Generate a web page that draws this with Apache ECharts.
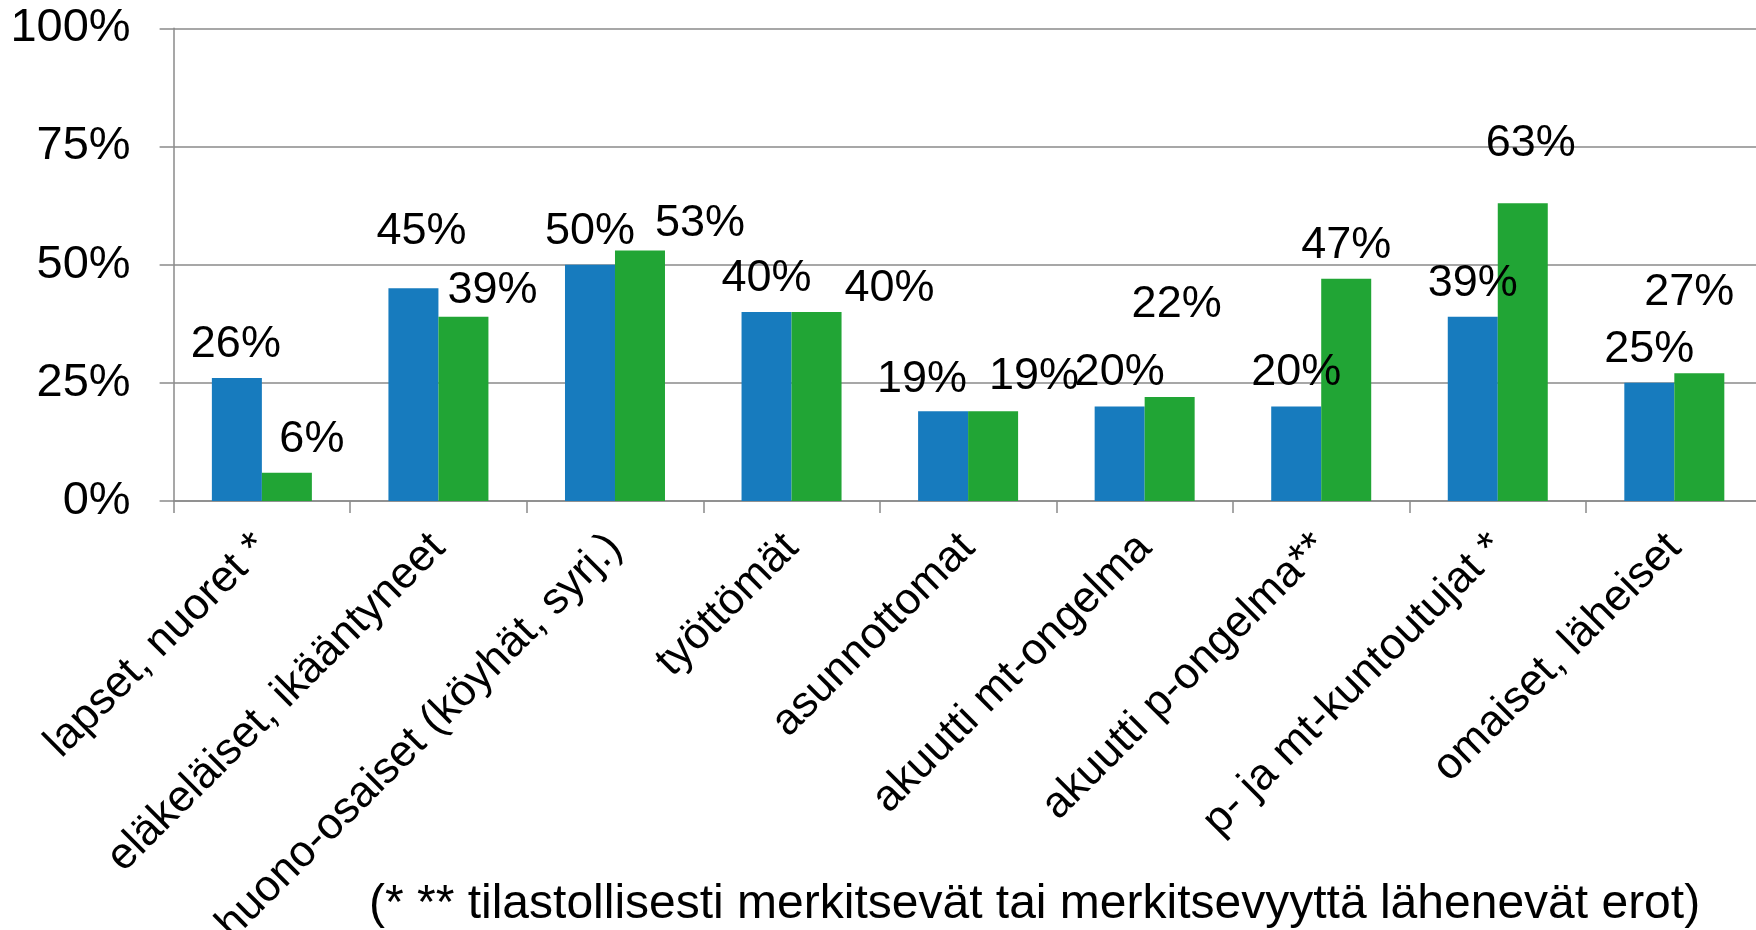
<!DOCTYPE html>
<html>
<head>
<meta charset="utf-8">
<script src="https://cdn.jsdelivr.net/npm/echarts@6/dist/echarts.min.js"></script>
<style>
  html, body { margin: 0; padding: 0; background: #fff; }
  #main { width: 1756px; height: 930px; }
</style>
</head>
<body>
<div id="main"></div>
<script>
var categories = [
    'lapset, nuoret *',
    'eläkeläiset, ikääntyneet',
    'huono-osaiset (köyhät, syrj.)',
    'työttömät',
    'asunnottomat',
    'akuutti mt-ongelma',
    'akuutti p-ongelma**',
    'p- ja mt-kuntoutujat *',
    'omaiset, läheiset'
];
var blueValues = [26, 45, 50, 40, 19, 20, 20, 39, 25];
var greenValues = [6, 39, 53, 40, 19, 22, 47, 63, 27];
var yTicks = [0, 25, 50, 75, 100];
var footnote = '(* ** tilastollisesti merkitsevät tai merkitsevyyttä lähenevät erot)';

// hand placed labels in the original, nudged here [dx, dy]
var blueNudge = [[-1, 0], [8, -23], [0, 0], [0, 0], [-21, 2], [0, 0], [0, 0], [0, 0], [0, 0]];
var greenNudge = [[25, 0], [29, 7], [60, 7], [73, 10], [41, -1], [7, -59], [0, 0], [8, -26], [-10, -47]];

var font = '"Liberation Sans", Arial, sans-serif';
var axisGray = '#8a8a8a';

var myChart = echarts.init(document.getElementById('main'));

function withNudge(values, nudge) {
    return values.map(function(v, i) {
        return { value: v, label: { offset: nudge[i] } };
    });
}

var labelStyle = {
    show: true,
    position: 'top',
    distance: 11,
    formatter: '{c}%',
    color: '#000',
    fontSize: 45,
    fontFamily: font
};

var option = {
    animation: false,
    grid: {
        left: 173.6,
        top: 28.3,
        width: 1589,
        height: 472.7,
        containLabel: false,
        outerBoundsMode: 'none'
    },
    xAxis: {
        type: 'category',
        data: categories,
        axisLine: { lineStyle: { color: axisGray, width: 1.5 } },
        axisTick: { show: true, length: 12, lineStyle: { color: axisGray, width: 1.5 } },
        axisLabel: {
            interval: 0,
            rotate: 45,
            margin: 40,
            verticalAlign: 'middle',
            color: '#000',
            fontSize: 44,
            fontFamily: font
        }
    },
    yAxis: {
        type: 'value',
        min: yTicks[0],
        max: yTicks[yTicks.length - 1],
        interval: 25,
        axisLine: { show: true, lineStyle: { color: axisGray, width: 1.5 } },
        axisTick: { show: true, length: 14, lineStyle: { color: axisGray, width: 1.5 } },
        splitLine: { lineStyle: { color: axisGray, width: 1.5 } },
        axisLabel: {
            margin: 43,
            formatter: '{value}%',
            color: '#000',
            fontSize: 47,
            fontFamily: font
        }
    },
    series: [
        {
            name: 'sininen',
            type: 'bar',
            data: withNudge(blueValues, blueNudge),
            barWidth: 50,
            barGap: '0%',
            itemStyle: { color: '#177BBE' },
            label: labelStyle
        },
        {
            name: 'vihreä',
            type: 'bar',
            data: withNudge(greenValues, greenNudge),
            barWidth: 50,
            itemStyle: { color: '#21A535' },
            label: labelStyle
        }
    ],
    graphic: [
        {
            type: 'text',
            left: 369,
            top: 881,
            style: {
                text: footnote,
                fill: '#000',
                fontSize: 48,
                fontFamily: font
            }
        }
    ]
};

myChart.setOption(option);
</script>
</body>
</html>
